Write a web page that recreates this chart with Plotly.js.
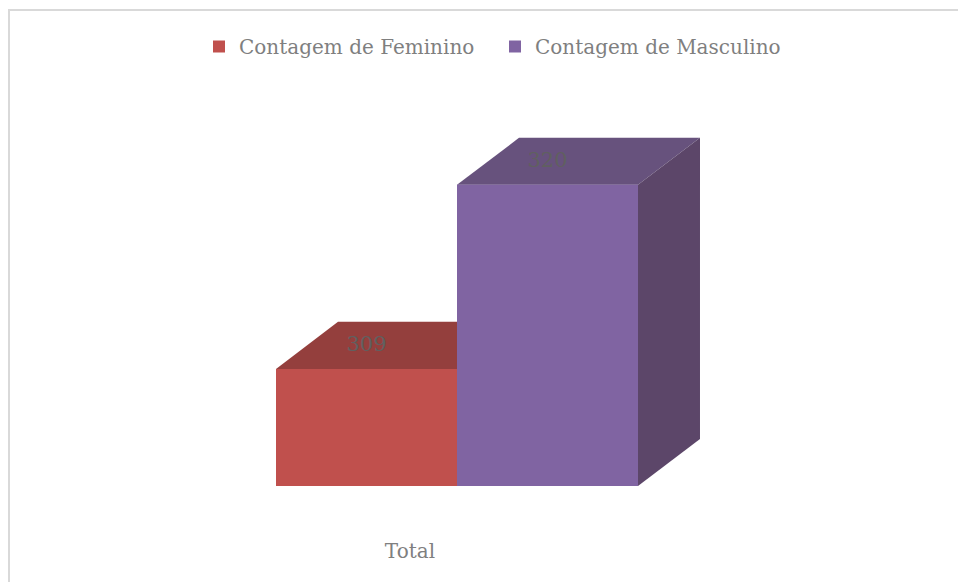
<!DOCTYPE html>
<html>
<head>
<meta charset="utf-8">
<script src="https://cdn.plot.ly/plotly-3.0.1.min.js"></script>
<style>
  html, body { margin: 0; padding: 0; background: #ffffff; }
  #chart { position: absolute; left: 0; top: 0; width: 958px; height: 582px; }
  #frame { position: absolute; left: 8px; top: 9px; width: 960px; height: 580px;
           border-left: 2px solid #d9d9d9; border-top: 2px solid #d9d9d9; pointer-events: none; }
</style>
</head>
<body>
<div id="chart"></div>
<div id="frame"></div>
<script>
// ---- data ----
const categories = ['Total'];
const seriesNames = ['Contagem de Feminino', 'Contagem de Masculino'];
const feminino = [309];
const masculino = [320];

// ---- styling / geometry ----
const frontColors = ['#C0504D', '#8064A2'];
const topColors   = ['#943F3D', '#67527D'];
const sideColors  = ['#7A3432', '#5C4669'];
const baseline = 302;      // value axis floor
const depthX = 0.3425;     // 3D depth offset in x units
const depthY = 2.81;       // 3D depth offset in value units
const barWidth = 1;
const tickPos = 0.74;

const seriesValues = [feminino, masculino];
const traces = [];

// legend + front faces as bars
seriesValues.forEach((vals, i) => {
  traces.push({
    type: 'bar',
    name: seriesNames[i],
    x: vals.map(() => i * barWidth + barWidth / 2),
    y: vals.map(v => v - baseline),
    base: baseline,
    width: barWidth,
    marker: { color: frontColors[i], line: { width: 0 } },
    hoverinfo: 'skip'
  });
});

// 3D faces drawn in painter order
seriesValues.forEach((vals, i) => {
  vals.forEach(v => {
    const x0 = i * barWidth, x1 = x0 + barWidth;
    // top face
    traces.push({
      type: 'scatter', mode: 'lines', fill: 'toself', showlegend: false, hoverinfo: 'skip',
      x: [x0, x1, x1 + depthX, x0 + depthX, x0],
      y: [v, v, v + depthY, v + depthY, v],
      line: { width: 0, color: topColors[i] }, fillcolor: topColors[i]
    });
    // right side face
    traces.push({
      type: 'scatter', mode: 'lines', fill: 'toself', showlegend: false, hoverinfo: 'skip',
      x: [x1, x1, x1 + depthX, x1 + depthX, x1],
      y: [baseline, v, v + depthY, baseline + depthY, baseline],
      line: { width: 0, color: sideColors[i] }, fillcolor: sideColors[i]
    });
    // front face
    traces.push({
      type: 'scatter', mode: 'lines', fill: 'toself', showlegend: false, hoverinfo: 'skip',
      x: [x0, x1, x1, x0, x0],
      y: [baseline, baseline, v, v, baseline],
      line: { width: 0, color: frontColors[i] }, fillcolor: frontColors[i]
    });
  });
});

// data labels on the top faces
seriesValues.forEach((vals, i) => {
  traces.push({
    type: 'scatter', mode: 'text', showlegend: false, hoverinfo: 'skip',
    x: vals.map(() => i * barWidth + barWidth / 2),
    y: vals.map(v => v + depthY * 0.5),
    text: vals.map(v => String(v)),
    textposition: 'middle center',
    textfont: { family: 'DejaVu Serif', size: 21, color: '#606060' }
  });
});

const layout = {
  width: 958, height: 582,
  margin: { l: 10, r: 10, t: 100, b: 60 },
  paper_bgcolor: '#ffffff', plot_bgcolor: '#ffffff',
  showlegend: true,
  legend: {
    orientation: 'h', xref: 'container', yref: 'container',
    x: 199 / 958, y: 1 - 27 / 582, xanchor: 'left', yanchor: 'top',
    font: { family: 'DejaVu Serif', size: 20, color: '#7f7f7f' },
    entrywidth: 251, entrywidthmode: 'pixels',
    bgcolor: 'rgba(0,0,0,0)'
  },
  xaxis: {
    range: [-1.4696, 3.7127], showgrid: false, zeroline: false, showline: false,
    tickmode: 'array', tickvals: [tickPos], ticktext: categories,
    ticks: '', ticklabelstandoff: 15,
    tickfont: { family: 'DejaVu Serif', size: 20, color: '#7f7f7f' },
    fixedrange: true
  },
  yaxis: {
    range: [299.848, 325.072], showgrid: false, zeroline: false, showline: false,
    showticklabels: false, ticks: '', fixedrange: true
  },
  barmode: 'overlay'
};

Plotly.newPlot('chart', traces, layout, { displayModeBar: false, staticPlot: true });
</script>
</body>
</html>
